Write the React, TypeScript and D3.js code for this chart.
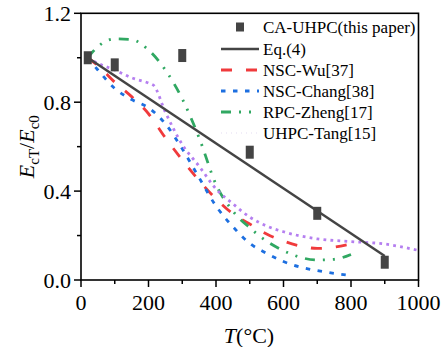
import React from "react";
import * as d3 from "d3";

const xTicks = [0, 200, 400, 600, 800, 1000];
const xMinor = [100, 300, 500, 700, 900];
const yTicks = [0.0, 0.4, 0.8, 1.2];
const yMinor = [0.2, 0.6, 1.0];

const caT = [20, 100, 300, 500, 700, 900];
const caE = [1.0, 0.968, 1.01, 0.575, 0.3, 0.08];

const eqT = [20, 900];
const eqE = [1.0, 0.108];

const wuT = [20, 50, 100, 150, 200, 250, 300, 350, 400, 450, 500, 550, 600, 650, 700, 750, 800];
const wuE = [1.0, 0.965, 0.89, 0.825, 0.748, 0.64, 0.54, 0.447, 0.365, 0.298, 0.252, 0.207, 0.175, 0.153, 0.142, 0.148, 0.162];

const changT = [20, 50, 100, 150, 200, 250, 300, 350, 400, 450, 500, 550, 600, 650, 700, 750, 800];
const changE = [1.0, 0.945, 0.862, 0.812, 0.775, 0.703, 0.59, 0.46, 0.333, 0.24, 0.165, 0.12, 0.083, 0.058, 0.042, 0.03, 0.02];

const zhengT = [20, 50, 100, 150, 200, 250, 300, 350, 400, 450, 500, 550, 600, 650, 700, 750, 800];
const zhengE = [1.0, 1.05, 1.085, 1.082, 1.035, 0.945, 0.815, 0.64, 0.43, 0.31, 0.235, 0.175, 0.132, 0.102, 0.09, 0.093, 0.115];

const tangT = [20, 50, 100, 150, 200, 215, 250, 300, 350, 400, 450, 500, 550, 600, 650, 700, 800, 900, 1000];
const tangE = [1.0, 0.975, 0.945, 0.91, 0.886, 0.876, 0.755, 0.61, 0.512, 0.41, 0.343, 0.283, 0.243, 0.217, 0.198, 0.185, 0.173, 0.162, 0.133];

const legendLabels = [
  "CA-UHPC(this paper)",
  "Eq.(4)",
  "NSC-Wu[37]",
  "NSC-Chang[38]",
  "RPC-Zheng[17]",
  "UHPC-Tang[15]",
];

const FONT = "'Liberation Serif', 'DejaVu Serif', serif";

export default function App() {
  const x = d3.scaleLinear().domain([0, 1000]).range([81, 418.5]);
  const y = d3.scaleLinear().domain([0, 1.2]).range([280, 13.3]);

  const mk = (T: number[], E: number[]) =>
    d3
      .line<number>()
      .x((_, i) => x(T[i]))
      .y((_, i) => y(E[i]))
      .curve(d3.curveMonotoneX)(T as any) as string;

  const series = [
    { T: wuT, E: wuE, color: "#f03a3c", dash: "11,14", w: 2.8 },
    { T: changT, E: changE, color: "#1d6fe0", dash: "4.5,7.5", w: 2.8 },
    { T: zhengT, E: zhengE, color: "#30a862", dash: "10,8,2,8,2,8", w: 2.8 },
    { T: tangT, E: tangE, color: "#b57ff0", dash: "2.8,4.2", w: 2.8 },
  ];

  const legendY = [27, 49, 70, 91, 112, 133];
  const lx0 = 221;
  const lx1 = 259;

  return (
    <svg
      width={448}
      height={347}
      style={{ position: "absolute", left: 0, top: 0, background: "#fff" }}
    >
      <g style={{ fontFamily: FONT }}>
      {series.map((s, i) => (
        <path
          key={i}
          d={mk(s.T, s.E)}
          fill="none"
          stroke={s.color}
          strokeWidth={s.w}
          strokeDasharray={s.dash}
        />
      ))}
      <path d={mk(eqT, eqE)} fill="none" stroke="#444" strokeWidth={2.5} />
      {caT.map((t, i) => (
        <rect
          key={i}
          x={x(t) - 4}
          y={y(caE[i]) - 6.5}
          width={8}
          height={13}
          fill="#444"
        />
      ))}

      <rect
        x={x(0)}
        y={y(1.2)}
        width={x(1000) - x(0)}
        height={y(0) - y(1.2)}
        fill="none"
        stroke="#000"
        strokeWidth={1.6}
      />

      {xTicks.map((t) => (
        <g key={"xt" + t}>
          <line x1={x(t)} x2={x(t)} y1={y(0)} y2={y(0) + 7} stroke="#000" strokeWidth={1.5} />
          <text x={x(t)} y={310} textAnchor="middle" fontSize={22}>
            {t}
          </text>
        </g>
      ))}
      {xMinor.map((t) => (
        <line key={"xm" + t} x1={x(t)} x2={x(t)} y1={y(0)} y2={y(0) + 4} stroke="#000" strokeWidth={1.5} />
      ))}

      {yTicks.map((v) => (
        <g key={"yt" + v}>
          <line x1={x(0) - 7} x2={x(0)} y1={y(v)} y2={y(v)} stroke="#000" strokeWidth={1.5} />
          <text x={71} y={y(v) + 7.5} textAnchor="end" fontSize={22}>
            {v.toFixed(1)}
          </text>
        </g>
      ))}
      {yMinor.map((v) => (
        <line key={"ym" + v} x1={x(0) - 4} x2={x(0)} y1={y(v)} y2={y(v)} stroke="#000" strokeWidth={1.5} />
      ))}

      <text x={249} y={343} textAnchor="middle" fontSize={22}>
        <tspan fontStyle="italic">T</tspan>
        <tspan>(°C)</tspan>
      </text>
      <text
        transform={`translate(34,${(y(0) + y(1.2)) / 2}) rotate(-90)`}
        textAnchor="middle"
        fontSize={22}
      >
        <tspan fontStyle="italic">E</tspan>
        <tspan fontSize={15} dy={5}>cT</tspan>
        <tspan dy={-5}>/</tspan>
        <tspan fontStyle="italic">E</tspan>
        <tspan fontSize={15} dy={5}>c0</tspan>
      </text>

      <rect x={(lx0 + lx1) / 2 - 4} y={legendY[0] - 4.5} width={8} height={9} fill="#444" />
      <line x1={lx0} x2={lx1} y1={legendY[1]} y2={legendY[1]} stroke="#444" strokeWidth={2.5} />
      {series.map((s, i) => (
        <line
          key={"lg" + i}
          x1={lx0}
          x2={lx1}
          y1={legendY[i + 2]}
          y2={legendY[i + 2]}
          stroke={i === 3 ? "#e4dcf2" : s.color}
          strokeWidth={i === 3 ? 1.2 : s.w}
          strokeDasharray={i === 3 ? "1,4" : s.dash}
        />
      ))}
      {legendLabels.map((l, i) => (
        <text key={l} x={263} y={legendY[i] + 5.8} fontSize={17}>
          {l}
        </text>
      ))}
      </g>
    </svg>
  );
}
